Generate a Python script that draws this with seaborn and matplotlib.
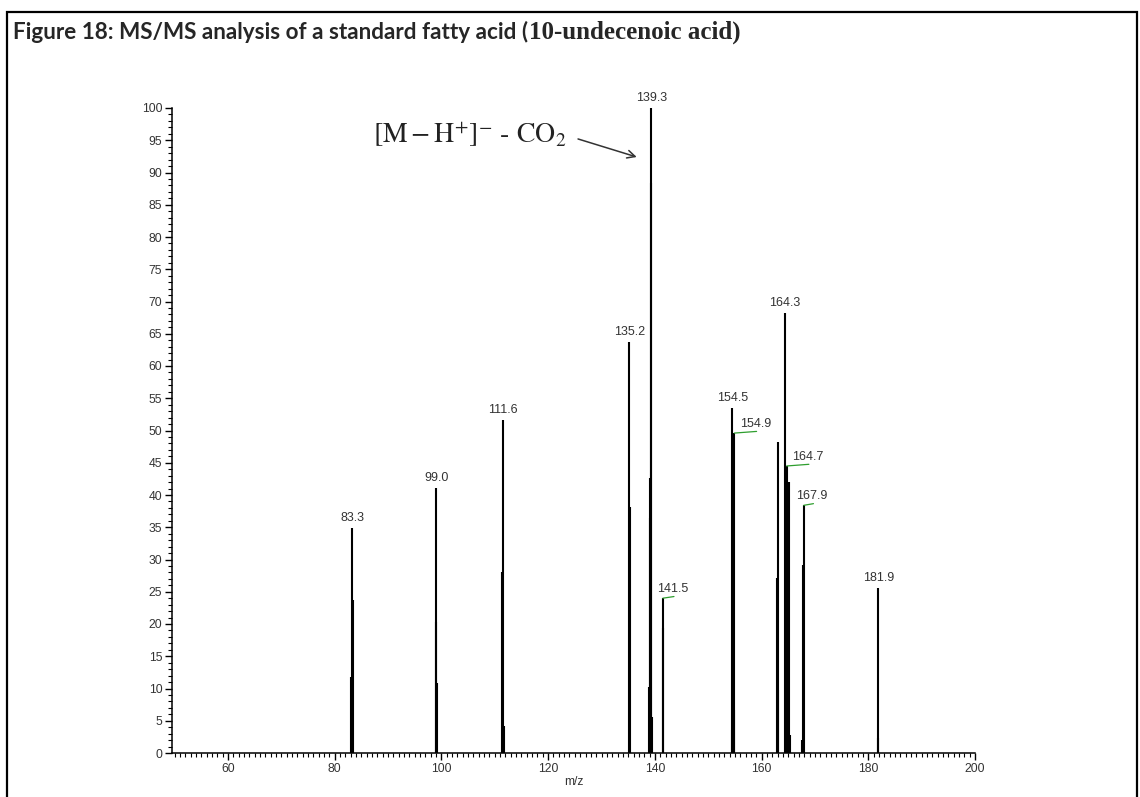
import numpy as np
import matplotlib
matplotlib.use("Agg")
import matplotlib.pyplot as plt
from matplotlib.patches import Rectangle
from matplotlib.ticker import MultipleLocator
import seaborn as sns

sns.set_theme(style="ticks")
plt.rcParams['font.family'] = ['Liberation Sans', 'DejaVu Sans']
plt.rcParams['mathtext.fontset'] = 'stix'

# centroid sticks of the MS/MS spectrum (m/z, relative intensity %)
peak_mz = [83.1, 83.3, 83.4,
           98.9, 99.0, 99.1,
           111.4, 111.6, 111.7,
           135.2, 135.3,
           138.9, 139.0, 139.1, 139.2, 139.3, 139.5,
           141.5, 141.6,
           154.4, 154.5, 154.6, 154.8, 154.9,
           162.9, 163.0, 163.1,
           164.3, 164.5, 164.6, 164.7, 164.9, 165.0, 165.2, 165.3,
           167.6, 167.8, 167.9,
           181.8, 181.9]
peak_intensity = [11.8, 34.9, 23.7,
                  20.3, 41.1, 10.9,
                  28.0, 51.6, 4.2,
                  63.7, 38.1,
                  10.2, 42.6, 36.4, 88.3, 100.0, 5.6,
                  24.0, 19.4,
                  3.6, 53.5, 44.3, 6.7, 49.6,
                  27.1, 48.2, 9.8,
                  68.2, 44.0, 8.2, 44.5, 30.7, 35.3, 42.0, 2.8,
                  2.0, 29.1, 38.4,
                  2.3, 25.6]

# labelled peaks
label_mz = [83.3, 99.0, 111.6, 135.2, 139.3, 141.5, 154.5, 154.9,
            164.3, 164.7, 167.9, 181.9]
leader_labels = [141.5, 154.9, 164.7, 167.9]

title_main = "Figure 18: MS/MS analysis of a standard fatty acid ("
title_tail = "10-undecenoic acid)"
fragment_text = r"$[\mathrm{M}-\mathrm{H}^{+}]^{-}$ - $\mathrm{CO}_{2}$"

# label offsets (points) for labels with a green leader line
leader_dx = {141.5: 7, 154.9: 15, 164.7: 15, 167.9: 6}

fig = plt.figure(figsize=(11.4, 7.97), dpi=100)
ax = fig.add_axes([172 / 1140, 1 - 753 / 797, (975 - 172) / 1140, (753 - 108) / 797])

ax.vlines(peak_mz, 0, peak_intensity, color='black', lw=1.5)

lookup = dict(zip(peak_mz, peak_intensity))
for mz in label_mz:
    h = lookup[mz]
    txt = f"{mz:.1f}"
    if mz in leader_labels:
        dx = leader_dx[mz]
        # green leader from the stick top towards the shifted label
        ax.annotate("", xy=(mz, h), xytext=(dx + 1, 1.2), textcoords='offset points',
                    arrowprops=dict(arrowstyle='-', color='#2e9e2e', lw=0.9,
                                    shrinkA=0, shrinkB=0))
        ax.annotate(txt, xy=(mz, h), xytext=(dx, 2.2), textcoords='offset points',
                    ha='center', va='bottom', fontsize=9, color='#333333')
    else:
        ax.annotate(txt, xy=(mz, h), xytext=(0, 3), textcoords='offset points',
                    ha='center', va='bottom', fontsize=9, color='#333333')

# fragment annotation with arrow
ax.text(123.4, 94.6, fragment_text, fontsize=20, ha='right', va='baseline',
        family='STIXGeneral', color='#222222', clip_on=False)
ax.annotate("", xy=(136.6, 92.4), xytext=(125.6, 95.2),
            arrowprops=dict(arrowstyle='->', color='#333333', lw=1.1,
                            mutation_scale=14, shrinkA=0, shrinkB=0))

ax.set_xlim(49.5, 200)
ax.set_ylim(0, 100)
ax.xaxis.set_major_locator(MultipleLocator(20))
ax.xaxis.set_minor_locator(MultipleLocator(1))
ax.yaxis.set_major_locator(MultipleLocator(5))
ax.yaxis.set_minor_locator(MultipleLocator(1))
ax.tick_params(which='major', direction='out', length=5, width=1, color='black',
               labelsize=8.7, labelcolor='#333333', pad=2)
ax.tick_params(which='minor', direction='out', length=3, width=0.8, color='black')
ax.set_xlabel("m/z", fontsize=8.7, color='#333333', labelpad=1)
ax.set_ylabel("")
sns.despine(ax=ax)
for s in ['left', 'bottom']:
    ax.spines[s].set_linewidth(1.1)
    ax.spines[s].set_color('black')

# outer frame and title
fig.patches.append(Rectangle((7 / 1140, -0.05), (1137 - 7) / 1140, 1.05 - 12 / 797,
                             transform=fig.transFigure, fill=False, edgecolor='black', lw=1.6))
t1 = fig.text(13 / 1140, 1 - 39 / 797, title_main, fontsize=16.2, fontweight='bold',
              family='Lato', va='baseline', ha='left')
fig.canvas.draw()
bb = t1.get_window_extent(fig.canvas.get_renderer())
x_end = bb.x1 / fig.bbox.width
fig.text(x_end + 1 / 1140, 1 - 39 / 797, title_tail, fontsize=18, fontweight='bold',
         family='Liberation Serif', va='baseline', ha='left')

fig.savefig("out.png", dpi=100)
